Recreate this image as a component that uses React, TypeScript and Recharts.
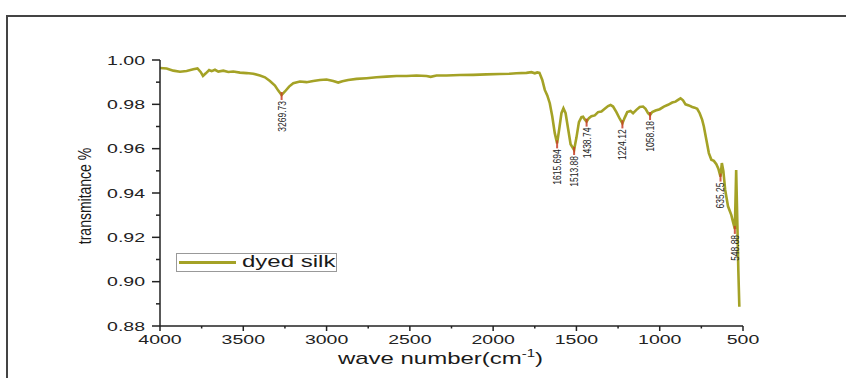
import React from 'react';
import { LineChart, Line, XAxis, YAxis, ReferenceDot } from 'recharts';

// FTIR spectrum
const wavenumbers = [
  4000, 3960, 3920, 3880, 3840, 3800, 3775, 3755, 3742, 3725, 3705, 3690, 3670, 3650, 3620, 3590,
  3560, 3520, 3480, 3440, 3400, 3370, 3340, 3310, 3290, 3270, 3250, 3225, 3200, 3160, 3120, 3080,
  3040, 3000, 2960, 2930, 2905, 2870, 2820, 2760, 2700, 2640, 2580, 2520, 2460, 2400, 2375, 2340,
  2280, 2200, 2120, 2040, 1960, 1900, 1860, 1800, 1770, 1750, 1735, 1722, 1705, 1690, 1675, 1660,
  1645, 1630, 1616, 1603, 1590, 1578, 1565, 1550, 1535, 1514, 1500, 1485, 1470, 1460, 1450, 1439,
  1425, 1410, 1390, 1370, 1350, 1330, 1310, 1295, 1280, 1260, 1240, 1224, 1210, 1195, 1175, 1160,
  1140, 1120, 1100, 1085, 1070, 1058, 1045, 1025, 1000, 975, 950, 925, 905, 890, 875, 860,
  845, 825, 805, 790, 775, 760, 745, 735, 720, 705, 690, 675, 660, 648, 635, 627,
  618, 607, 590, 570, 560, 549, 544, 541, 535, 528, 522,
];
const transmittance = [
  0.9964, 0.9962, 0.9952, 0.9947, 0.995, 0.9958, 0.9962, 0.9945, 0.9928, 0.994, 0.9955, 0.995, 0.9956, 0.9948, 0.9952, 0.9946,
  0.9948, 0.9943, 0.9941, 0.9938, 0.993, 0.9922, 0.9905, 0.9885, 0.9862, 0.9842, 0.9858, 0.988, 0.9895, 0.9903, 0.99, 0.9905,
  0.991, 0.9912, 0.9905, 0.9898, 0.9904, 0.991, 0.9915, 0.9918, 0.9922, 0.9925, 0.9928, 0.9928, 0.993, 0.9928, 0.9924, 0.993,
  0.993, 0.9932, 0.9933, 0.9935, 0.9937, 0.9938, 0.994, 0.9942, 0.9945, 0.994, 0.9944, 0.9942, 0.991, 0.9865, 0.984, 0.9805,
  0.9745, 0.967, 0.9624, 0.969, 0.976, 0.9782, 0.976, 0.969, 0.962, 0.9594, 0.965, 0.972, 0.9742, 0.9744, 0.9732, 0.9722,
  0.9738, 0.9746, 0.975, 0.9765, 0.9768, 0.978, 0.9792, 0.9797, 0.979, 0.9765, 0.9735, 0.9714, 0.974, 0.9765, 0.977, 0.976,
  0.9775, 0.9788, 0.979, 0.978, 0.976, 0.9752, 0.9765, 0.9772, 0.9778, 0.979, 0.9798, 0.9808, 0.9812, 0.982, 0.9827, 0.9818,
  0.98, 0.9795, 0.9788, 0.9785, 0.978, 0.976, 0.973, 0.97, 0.964, 0.958, 0.955, 0.9545, 0.953, 0.951, 0.9474, 0.9535,
  0.95, 0.9414, 0.934, 0.93, 0.927, 0.9238, 0.94, 0.9504, 0.93, 0.905, 0.8887,
];

const peakWavenumbers = [3270, 1616, 1514, 1439, 1224, 1058, 635, 549];
const peakValues = [0.9842, 0.9624, 0.9594, 0.9722, 0.9714, 0.9752, 0.9474, 0.9238];
const peakLabels = ['3269.73', '1615.694', '1513.88', '1438.74', '1224.12', '1058.18', '635.25', '548.88'];

const xTicks = [4000, 3750, 3500, 3250, 3000, 2750, 2500, 2250, 2000, 1750, 1500, 1250, 1000, 750, 500];
const yTicks = [0.88, 0.89, 0.9, 0.91, 0.92, 0.93, 0.94, 0.95, 0.96, 0.97, 0.98, 0.99, 1.0];

const seriesName = 'dyed silk';
const lineColor = '#a4a226';
const font = "'Liberation Sans', Arial, sans-serif";

const data = wavenumbers.map((w, i) => ({ w, t: transmittance[i] }));

const XTick = (props: any) => {
  const { x, y, payload } = props;
  const major = payload.value % 500 === 0;
  return (
    <g>
      <line x1={x} y1={y} x2={x} y2={y + (major ? 5 : 2.5)} stroke="#222" strokeWidth={1.5} />
      {major && (
        <text transform={`translate(${x},${y + 17.5}) scale(1.5,1)`} textAnchor="middle" fontSize={13} fill="#222" fontFamily={font}>
          {payload.value}
        </text>
      )}
    </g>
  );
};

const YTick = (props: any) => {
  const { x, y, payload } = props;
  const major = Math.round(payload.value * 100) % 2 === 0;
  return (
    <g>
      <line x1={x - (major ? 8 : 4)} y1={y} x2={x} y2={y} stroke="#222" strokeWidth={1.5} />
      {major && (
        <text transform={`translate(${x - 15},${y}) scale(1.5,1)`} textAnchor="end" dy="0.36em" fontSize={13} fill="#222" fontFamily={font}>
          {payload.value.toFixed(2)}
        </text>
      )}
    </g>
  );
};

const XLabel = (props: any) => {
  const { x, y, width } = props.viewBox;
  return (
    <text transform={`translate(${x + width / 2 - 11},${y + 37.5}) scale(1.5,1)`} textAnchor="middle" fontSize={16} fill="#1a1a1a" fontFamily={font}>
      wave number(cm<tspan fontSize={10} dy={-7}>-1</tspan>
      <tspan dy={7}>)</tspan>
    </text>
  );
};

const YLabel = (props: any) => {
  const { y, height } = props.viewBox;
  return (
    <text transform={`translate(85,${y + height / 2 + 3}) rotate(-90) scale(1,1.25)`} textAnchor="middle" dominantBaseline="central" fontSize={14} fill="#1a1a1a" fontFamily={font}>
      transmitance %
    </text>
  );
};

const PeakMark = ({ cx, cy, text }: any) => (
  <g>
    <line x1={cx} y1={cy - 3} x2={cx} y2={cy + 5} stroke="#c8402a" strokeWidth={2} opacity={0.85} />
    <text transform={`translate(${cx},${cy + 6}) rotate(-90) scale(1,1.35)`} textAnchor="end" dominantBaseline="central" fontSize={8.5} fill="#222" fontFamily={font}>
      {text}
    </text>
  </g>
);

const App: React.FC = () => {
  return (
    <div style={{ position: 'absolute', left: 0, top: 0, width: 846, height: 378, background: '#fff', overflow: 'hidden' }}>
      {/* outer frame of the figure */}
      <div style={{ position: 'absolute', left: 6, top: 15, width: 860, height: 400, borderTop: '2px solid #444', borderLeft: '2px solid #444' }} />

      <div style={{ position: 'absolute', left: 0, top: 0 }}>
        <LineChart width={846} height={378} data={data} margin={{ top: 60, right: 103, bottom: 0, left: 0 }}>
          <XAxis
            type="number"
            dataKey="w"
            domain={[500, 4000]}
            reversed
            ticks={xTicks}
            interval={0}
            height={52}
            tickSize={0}
            tickMargin={0}
            tick={<XTick />}
            axisLine={{ stroke: '#222', strokeWidth: 1.5 }}
            label={<XLabel />}
          />
          <YAxis
            type="number"
            domain={[0.88, 1.0]}
            ticks={yTicks}
            interval={0}
            width={160}
            tickSize={0}
            tickMargin={0}
            tick={<YTick />}
            axisLine={{ stroke: '#222', strokeWidth: 1.5 }}
            label={<YLabel />}
          />
          <Line type="linear" dataKey="t" stroke={lineColor} strokeWidth={2.6} dot={false} isAnimationActive={false} />
          {peakWavenumbers.map((w, i) => (
            <ReferenceDot key={w} x={w} y={peakValues[i]} r={0} shape={(p: any) => <PeakMark cx={p.cx} cy={p.cy} text={peakLabels[i]} />} />
          ))}
        </LineChart>
      </div>

      {/* legend box */}
      <div style={{ position: 'absolute', left: 176, top: 253, width: 159, height: 17, border: '1px solid #999', background: '#fff' }}>
        <div style={{ position: 'absolute', left: 2, top: 7, width: 57, height: 3, background: lineColor }} />
        <div style={{ position: 'absolute', left: 65, top: -1, fontFamily: font, fontSize: 16, color: '#1a1a1a', transform: 'scaleX(1.5)', transformOrigin: 'left center', whiteSpace: 'nowrap' }}>
          {seriesName}
        </div>
      </div>
    </div>
  );
};

export default App;
